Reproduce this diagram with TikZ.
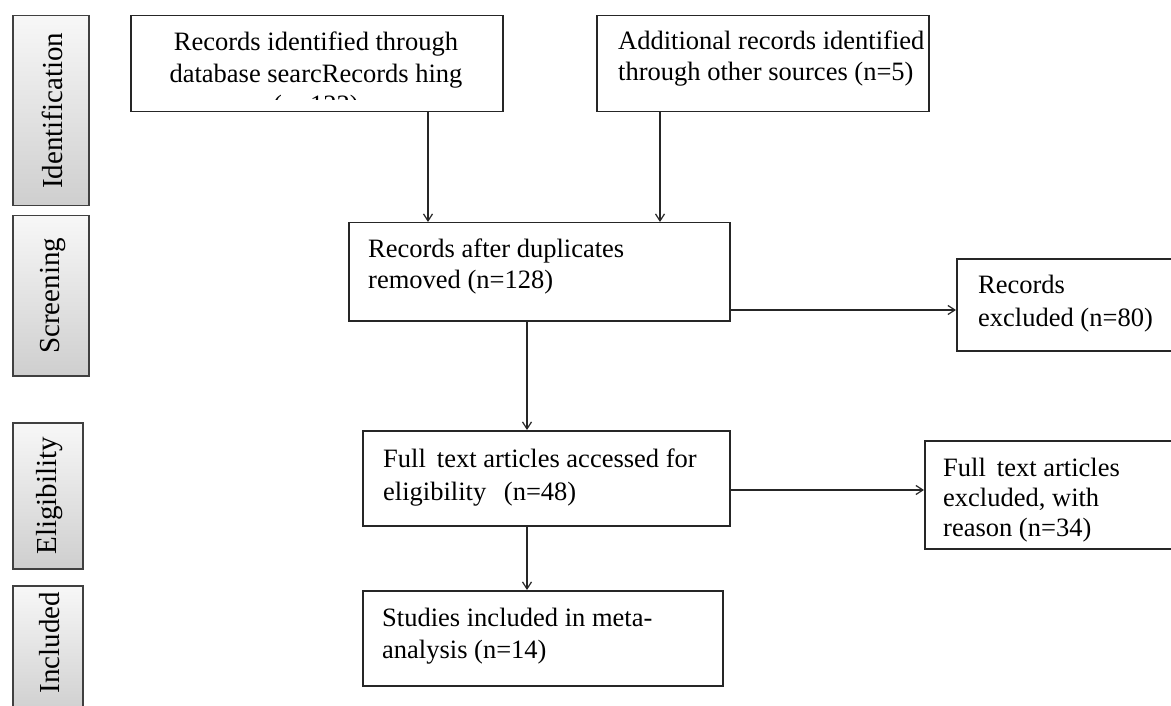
\documentclass[tikz,border=0pt]{standalone}
\usepackage{fontspec}
\setmainfont{Liberation Serif}
\usetikzlibrary{arrows.meta,calc}
\tikzset{
  box/.style={draw=black!85, line width=1.5pt, rectangle, inner sep=0pt, anchor=north west, fill=white},
  phase/.style={draw=black!75, line width=1.5pt, rectangle, inner sep=0pt, anchor=north west, top color=gray!6, bottom color=gray!38},
  txt/.style={inner sep=0pt, anchor=base west, align=left, font=\fontsize{26.5}{31}\selectfont},
  ptxt/.style={inner sep=0pt, rotate=90, font=\fontsize{29}{32}\selectfont},
  conn/.style={draw=black!85, line width=1.3pt, -{Straight Barb[length=7pt,width=9pt,line width=1.2pt]}}
}
\begin{document}
\begin{tikzpicture}[x=1pt,y=-1pt]
\useasboundingbox (0,0) rectangle (1171,706);
\clip (0,0) rectangle (1171,706);
\fill[white] (0,0) rectangle (1171,706);

% phase labels
\node[phase, minimum width=76pt, minimum height=190pt] (pid) at (12,15) {};
\node[ptxt] at ($(pid.center)+(2,0)$) {Identification};
\node[phase, minimum width=76pt, minimum height=160pt] (psc) at (12,215) {};
\node[ptxt] at ($(psc.center)+(2,0)$) {Screening};
\node[phase, minimum width=70pt, minimum height=146pt] (pel) at (12,422) {};
\node[ptxt] at ($(pel.center)+(2,0)$) {Eligibility};
\node[phase, minimum width=70pt, minimum height=130pt] (pin) at (12,585) {};
\node[ptxt] at ($(pin.center)+(2,-8)$) {Included};

% boxes (the text anchor is the baseline of the last line)
\node[box, minimum width=372pt, minimum height=96pt] (a) at (130,15) {};
\begin{scope}
\clip (131,16) rectangle (501,100);
\node[txt, align=center, anchor=base, font=\fontsize{26.5}{31.5}\selectfont] at (316,114) {Records identified through\\database searcRecords hing\\(n=122)};
\end{scope}

\node[box, minimum width=332pt, minimum height=96pt] (b) at (596,15) {};
\node[txt] at (618,81) {Additional records identified\\through other sources (n=5)};

\node[box, minimum width=381pt, minimum height=98pt] (c) at (348,222) {};
\node[txt] at (368,288) {Records after duplicates\\removed (n=128)};

\node[box, minimum width=230pt, minimum height=92pt] (d) at (956,258) {};
\node[txt, font=\fontsize{26.5}{33}\selectfont] at (978,326) {Records\\excluded (n=80)};

\node[box, minimum width=367pt, minimum height=95pt] (e) at (362,430) {};
\node[txt, font=\fontsize{26.5}{33}\selectfont] at (383,500) {Full\, text articles accessed for\\eligibility \ \,(n=48)};

\node[box, minimum width=260pt, minimum height=108pt] (f) at (924,440) {};
\node[txt, font=\fontsize{26.5}{30}\selectfont] at (943,536) {Full\, text articles\\excluded, with\\reason (n=34)};

\node[box, minimum width=360pt, minimum height=95pt] (g) at (362,590) {};
\node[txt, font=\fontsize{26.5}{32}\selectfont] at (382,658) {Studies included in meta-\\analysis (n=14)};

% connectors
\draw[conn] (a.south -| 428,0) -- (c.north -| 428,0);
\draw[conn] (b.south -| 660,0) -- (c.north -| 660,0);
\draw[conn] (c.east |- 0,310) -- (d.west |- 0,310);
\draw[conn] (c.south -| 527,0) -- (e.north -| 527,0);
\draw[conn] (e.east |- 0,490) -- (f.west |- 0,490);
\draw[conn] (e.south -| 527,0) -- (g.north -| 527,0);
\end{tikzpicture}
\end{document}
